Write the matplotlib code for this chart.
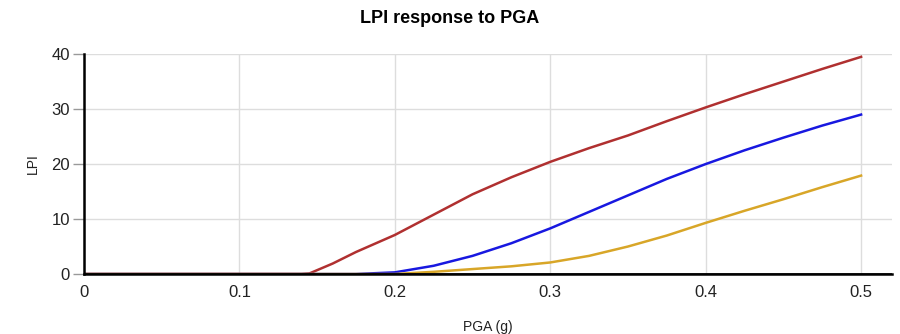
import matplotlib.pyplot as plt
import numpy as np

plt.rcParams['font.family'] = ['Liberation Sans', 'DejaVu Sans']

# PGA values (g) and LPI readings for the three curves
pga = [0.0, 0.1, 0.14, 0.145, 0.16, 0.175, 0.2, 0.225, 0.25, 0.275, 0.3, 0.325,
       0.35, 0.375, 0.4, 0.425, 0.45, 0.475, 0.5]
lpi_red = [0, 0, 0, 0.1, 1.9, 4.0, 7.1, 10.8, 14.5, 17.6, 20.4, 22.9,
           25.2, 27.8, 30.3, 32.7, 35.0, 37.3, 39.5]
lpi_blue = [0, 0, 0, 0, 0, 0, 0.3, 1.5, 3.3, 5.6, 8.3, 11.3,
            14.3, 17.3, 20.0, 22.5, 24.8, 27.0, 29.0]
lpi_gold = [0, 0, 0, 0, 0, 0, 0, 0.4, 0.9, 1.4, 2.1, 3.3,
            5.0, 7.0, 9.3, 11.5, 13.6, 15.8, 17.9]

series = [(lpi_red, '#b03030'), (lpi_blue, '#1818e0'), (lpi_gold, '#d8a628')]

fig = plt.figure(figsize=(9, 3.34), dpi=100)
ax = fig.add_axes([0.0933, 0.1796, 0.898, 0.6584])

for vals, col in series:
    ax.plot(pga, vals, color=col, lw=1.8, solid_joinstyle='round', zorder=3)

ax.set_xlim(0, 0.52)
ax.set_ylim(0, 40)
ax.set_xticks(np.arange(0, 0.51, 0.1))
ax.set_xticklabels(['0', '0.1', '0.2', '0.3', '0.4', '0.5'])
ax.set_yticks([0, 10, 20, 30, 40])
ax.grid(True, color='#dddddd', lw=1)
ax.set_axisbelow(True)

for s in ['top', 'right']:
    ax.spines[s].set_visible(False)
ax.spines['left'].set_linewidth(1.8)
ax.spines['bottom'].set_linewidth(1.8)
ax.spines['left'].set_zorder(4)
ax.spines['bottom'].set_zorder(4)
ax.axhline(0, color='black', lw=1.8, zorder=4)

ax.tick_params(axis='x', length=0, pad=8, labelsize=12, colors='#222222')
ax.tick_params(axis='y', length=8, width=1, color='#999999', pad=2,
               labelsize=12, labelcolor='#222222')

ax.set_xlabel('PGA (g)', fontsize=10, labelpad=14, color='#222222')
ax.set_ylabel('LPI', fontsize=10, labelpad=8, color='#222222')
fig.suptitle('LPI response to PGA', fontsize=13, fontweight='bold', y=0.97)

fig.savefig('out.png', dpi=100)
